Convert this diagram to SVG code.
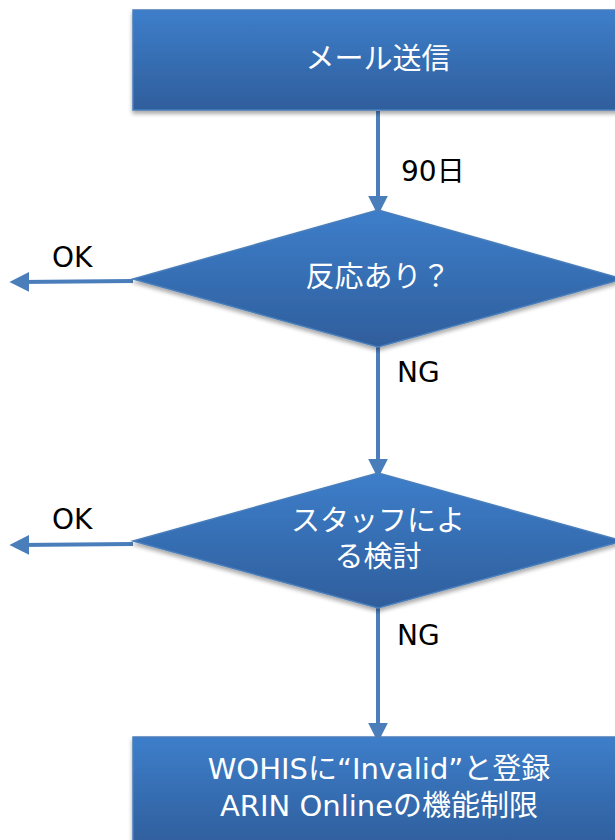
<svg xmlns="http://www.w3.org/2000/svg" width="615" height="840" viewBox="0 0 615 840">
<defs>
<linearGradient id="g" x1="0" y1="0" x2="0" y2="1">
<stop offset="0" stop-color="#3d7eca"/>
<stop offset="1" stop-color="#2f5e9c"/>
</linearGradient>
<filter id="sh" x="-10%" y="-10%" width="120%" height="130%">
<feGaussianBlur in="SourceAlpha" stdDeviation="2"/>
<feOffset dx="0" dy="3" result="b"/>
<feComponentTransfer><feFuncA type="linear" slope="0.35"/></feComponentTransfer>
<feMerge><feMergeNode/><feMergeNode in="SourceGraphic"/></feMerge>
</filter>
<marker id="ah" markerWidth="5" markerHeight="5" refX="2.6" refY="2.5" orient="auto" markerUnits="strokeWidth">
<path d="M0,0 L5,2.5 L0,5 z" fill="#4a7ebb"/>
</marker>
<style>
.shape{fill:url(#g);stroke:#4a7ebb;stroke-width:1.5;filter:url(#sh)}
.wt{fill:#ffffff;font-family:"DejaVu Sans","Noto Sans CJK JP",sans-serif;font-size:29px;text-anchor:middle}
.bt{fill:#000000;font-family:"DejaVu Sans","Noto Sans CJK JP",sans-serif;font-size:28px}
.ln{stroke:#4a7ebb;stroke-width:4;fill:none;marker-end:url(#ah)}
</style>
</defs>
<rect width="615" height="840" fill="#ffffff"/>
<g id="connectors">
<line class="ln" x1="378" y1="111" x2="378" y2="206"/>
<line class="ln" x1="378" y1="347" x2="378" y2="469"/>
<line class="ln" x1="378" y1="608" x2="378" y2="733"/>
<line class="ln" x1="133" y1="281" x2="19" y2="282"/>
<line class="ln" x1="133" y1="544" x2="19" y2="545"/>
<text class="bt" x="401" y="181">90日</text>
<text class="bt" x="397" y="382">NG</text>
<text class="bt" x="397" y="645">NG</text>
<text class="bt" x="52" y="267">OK</text>
<text class="bt" x="52" y="529">OK</text>
</g>
<g id="mail">
<rect class="shape" x="133" y="10" width="490" height="100"/>
<text class="wt" x="378" y="69">メール送信</text>
</g>
<g id="reaction">
<polygon class="shape" points="378,210 623,279 378,347 133,279"/>
<text class="wt" x="378" y="287">反応あり？</text>
</g>
<g id="staff">
<polygon class="shape" points="378,473 623,541 378,608 133,541"/>
<text class="wt" x="378" y="531">スタッフによ</text>
<text class="wt" x="378" y="567">る検討</text>
</g>
<g id="invalid">
<rect class="shape" x="133" y="737" width="490" height="110"/>
<text class="wt" x="379" y="779">WOHISに“Invalid”と登録</text>
<text class="wt" x="379" y="816">ARIN Onlineの機能制限</text>
</g>
</svg>
